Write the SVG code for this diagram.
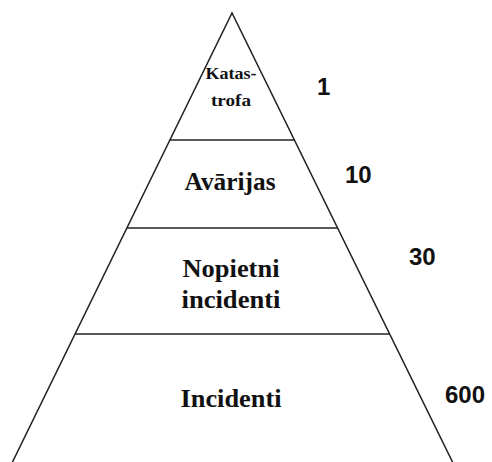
<svg xmlns="http://www.w3.org/2000/svg" width="492" height="462" viewBox="0 0 492 462">
<style>
.ln{stroke:#222;stroke-width:1.5;fill:none}
.lbl{font-family:"Liberation Serif","Times New Roman",serif;font-weight:bold;fill:#111;text-anchor:middle}
.num{font-family:"Liberation Sans",Arial,sans-serif;font-weight:bold;fill:#111;font-size:24px}
</style>
<rect width="492" height="462" fill="#fff"/>
<g id="outline">
<path class="ln" d="M12,463 L232,13 L453,463"/>
</g>
<g id="connectors">
<line class="ln" x1="170" y1="140" x2="295" y2="140"/>
<line class="ln" x1="127" y1="228" x2="338" y2="228"/>
<line class="ln" x1="75" y1="334" x2="390" y2="334"/>
</g>
<g id="katastrofa">
<text class="lbl" x="231" y="79" font-size="16" font-weight="normal" textLength="51" lengthAdjust="spacingAndGlyphs">Katas-</text>
<text class="lbl" x="231" y="106" font-size="16" font-weight="normal" textLength="40" lengthAdjust="spacingAndGlyphs">trofa</text>
<text class="num" x="317" y="95">1</text>
</g>
<g id="avarijas">
<text class="lbl" x="230" y="190" font-size="25" textLength="91" lengthAdjust="spacingAndGlyphs">Avārijas</text>
<text class="num" x="345" y="183">10</text>
</g>
<g id="nopietni">
<text class="lbl" x="231" y="277" font-size="25" textLength="97" lengthAdjust="spacingAndGlyphs">Nopietni</text>
<text class="lbl" x="231" y="308" font-size="25" textLength="99" lengthAdjust="spacingAndGlyphs">incidenti</text>
<text class="num" x="409" y="265">30</text>
</g>
<g id="incidenti">
<text class="lbl" x="231" y="407" font-size="25" textLength="101" lengthAdjust="spacingAndGlyphs">Incidenti</text>
<text class="num" x="445" y="403">600</text>
</g>
</svg>
